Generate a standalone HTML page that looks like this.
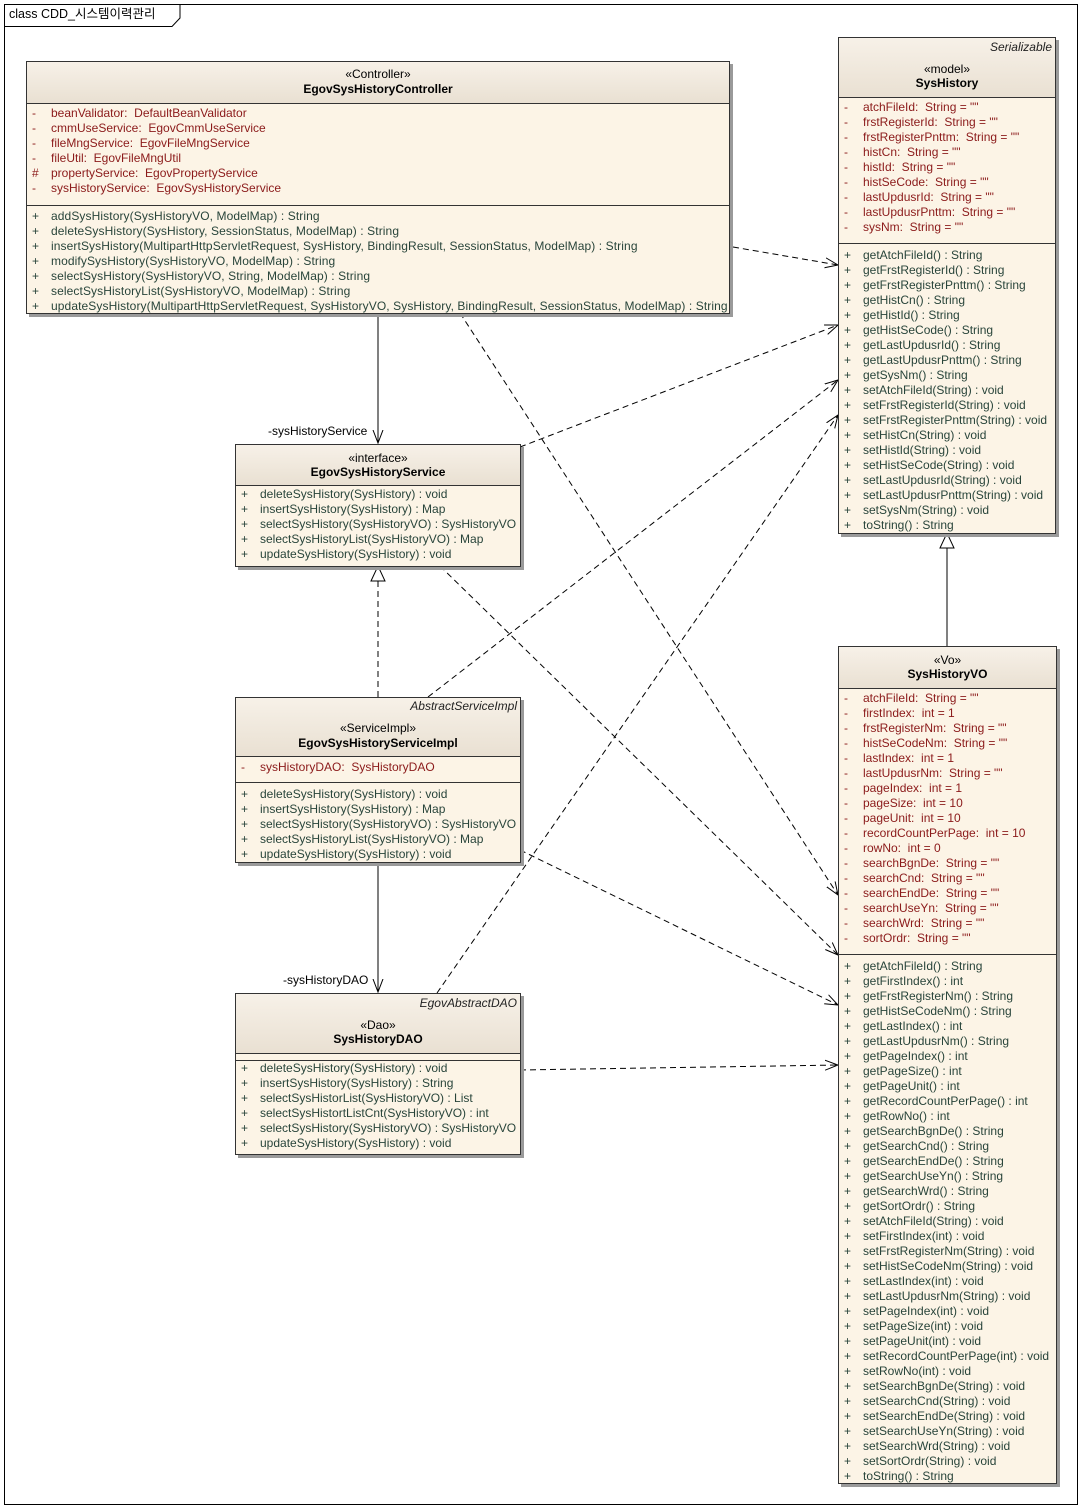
<!DOCTYPE html>
<html><head><meta charset="utf-8">
<style>
body{margin:0;width:1084px;height:1510px;background:#fff;position:relative;overflow:hidden;font-family:"Liberation Sans","Noto Sans CJK KR",sans-serif;font-size:12px;}
.box{position:absolute;background:#fcf4e6;border:1px solid #333;box-shadow:3px 3px 0 #9a9a9a;box-sizing:border-box;}
.hd{position:absolute;left:0;right:0;top:0;background:linear-gradient(#f7f1e8,#e9e0d2);border-bottom:1px solid #333;text-align:center;color:#000;}
.cmp{position:absolute;left:0;right:0;}
.sep{position:absolute;left:0;right:0;border-top:1px solid #333;}
.l{height:15px;line-height:15px;white-space:pre;position:relative;}
.l b{font-weight:normal;position:absolute;left:5px;}
.l span{position:absolute;left:24px;white-space:pre;}
.a{color:#8b1a1a;}
.o{color:#28443a;}
.st{position:absolute;left:0;right:0;text-align:center;line-height:15px;}
.nm{font-weight:bold;}
.ab{position:absolute;right:3px;font-style:italic;line-height:15px;color:#222;}
.lbl{position:absolute;line-height:15px;color:#000;}
</style></head><body>
<svg width="1084" height="1510" style="position:absolute;left:0;top:0">
<defs>
<marker id="ar" markerWidth="14" markerHeight="12" refX="13" refY="6" orient="auto" markerUnits="userSpaceOnUse"><path d="M0,1 L13,6 L0,11" fill="none" stroke="#000" stroke-width="1"/></marker>
</defs>
<rect x="4.5" y="4.5" width="1073" height="1500" fill="none" stroke="#000"/>
<path d="M4.5,26.5 H172 L180,18 V4.5" fill="none" stroke="#000"/>
<g stroke="#000" fill="none">
<line x1="378" y1="313" x2="378" y2="443" marker-end="url(#ar)"/>
<line x1="378" y1="862" x2="378" y2="992" marker-end="url(#ar)"/>
<line x1="947" y1="646" x2="947" y2="548"/>
<path d="M940,548 L947,533 L954,548 Z" fill="#fff"/>
<line x1="378" y1="697" x2="378" y2="581" stroke-dasharray="6,4"/>
<path d="M371,581 L378,566 L385,581 Z" fill="#fff"/>
<g stroke-dasharray="6,4">
<line x1="733" y1="247" x2="838" y2="265" marker-end="url(#ar)"/>
<line x1="460" y1="313" x2="838" y2="895" marker-end="url(#ar)"/>
<line x1="520" y1="447" x2="838" y2="325" marker-end="url(#ar)"/>
<line x1="440" y1="566" x2="838" y2="955" marker-end="url(#ar)"/>
<line x1="428" y1="697" x2="838" y2="380" marker-end="url(#ar)"/>
<line x1="520" y1="850" x2="838" y2="1005" marker-end="url(#ar)"/>
<line x1="437" y1="993" x2="838" y2="415" marker-end="url(#ar)"/>
<line x1="520" y1="1070" x2="838" y2="1065" marker-end="url(#ar)"/>
</g></g>
</svg>
<div class="lbl" style="left:9px;top:7px;font-size:12.5px">class CDD_시스템이력관리</div>
<div class="lbl" style="left:268px;top:424px">-sysHistoryService</div>
<div class="lbl" style="left:283px;top:973px">-sysHistoryDAO</div>

<!-- Controller -->
<div class="box" style="left:26px;top:61px;width:704px;height:253px">
<div class="hd" style="height:41px"><div class="st" style="top:5px">«Controller»</div><div class="st nm" style="top:20px">EgovSysHistoryController</div></div>
<div class="cmp a" style="top:44px">
<div class="l"><b>-</b><span>beanValidator:  DefaultBeanValidator</span></div>
<div class="l"><b>-</b><span>cmmUseService:  EgovCmmUseService</span></div>
<div class="l"><b>-</b><span>fileMngService:  EgovFileMngService</span></div>
<div class="l"><b>-</b><span>fileUtil:  EgovFileMngUtil</span></div>
<div class="l"><b>#</b><span>propertyService:  EgovPropertyService</span></div>
<div class="l"><b>-</b><span>sysHistoryService:  EgovSysHistoryService</span></div>
</div>
<div class="sep" style="top:143px"></div>
<div class="cmp o" style="top:147px;letter-spacing:0.1px">
<div class="l"><b>+</b><span>addSysHistory(SysHistoryVO, ModelMap) : String</span></div>
<div class="l"><b>+</b><span>deleteSysHistory(SysHistory, SessionStatus, ModelMap) : String</span></div>
<div class="l"><b>+</b><span>insertSysHistory(MultipartHttpServletRequest, SysHistory, BindingResult, SessionStatus, ModelMap) : String</span></div>
<div class="l"><b>+</b><span>modifySysHistory(SysHistoryVO, ModelMap) : String</span></div>
<div class="l"><b>+</b><span>selectSysHistory(SysHistoryVO, String, ModelMap) : String</span></div>
<div class="l"><b>+</b><span>selectSysHistoryList(SysHistoryVO, ModelMap) : String</span></div>
<div class="l"><b>+</b><span>updateSysHistory(MultipartHttpServletRequest, SysHistoryVO, SysHistory, BindingResult, SessionStatus, ModelMap) : String</span></div>
</div></div>

<!-- SysHistory -->
<div class="box" style="left:838px;top:37px;width:218px;height:497px">
<div class="hd" style="height:59px"><div class="ab" style="top:2px">Serializable</div><div class="st" style="top:24px">«model»</div><div class="st nm" style="top:38px">SysHistory</div></div>
<div class="cmp a" style="top:62px">
<div class="l"><b>-</b><span>atchFileId:  String = ""</span></div>
<div class="l"><b>-</b><span>frstRegisterId:  String = ""</span></div>
<div class="l"><b>-</b><span>frstRegisterPnttm:  String = ""</span></div>
<div class="l"><b>-</b><span>histCn:  String = ""</span></div>
<div class="l"><b>-</b><span>histId:  String = ""</span></div>
<div class="l"><b>-</b><span>histSeCode:  String = ""</span></div>
<div class="l"><b>-</b><span>lastUpdusrId:  String = ""</span></div>
<div class="l"><b>-</b><span>lastUpdusrPnttm:  String = ""</span></div>
<div class="l"><b>-</b><span>sysNm:  String = ""</span></div>
</div>
<div class="sep" style="top:205px"></div>
<div class="cmp o" style="top:210px">
<div class="l"><b>+</b><span>getAtchFileId() : String</span></div>
<div class="l"><b>+</b><span>getFrstRegisterId() : String</span></div>
<div class="l"><b>+</b><span>getFrstRegisterPnttm() : String</span></div>
<div class="l"><b>+</b><span>getHistCn() : String</span></div>
<div class="l"><b>+</b><span>getHistId() : String</span></div>
<div class="l"><b>+</b><span>getHistSeCode() : String</span></div>
<div class="l"><b>+</b><span>getLastUpdusrId() : String</span></div>
<div class="l"><b>+</b><span>getLastUpdusrPnttm() : String</span></div>
<div class="l"><b>+</b><span>getSysNm() : String</span></div>
<div class="l"><b>+</b><span>setAtchFileId(String) : void</span></div>
<div class="l"><b>+</b><span>setFrstRegisterId(String) : void</span></div>
<div class="l"><b>+</b><span>setFrstRegisterPnttm(String) : void</span></div>
<div class="l"><b>+</b><span>setHistCn(String) : void</span></div>
<div class="l"><b>+</b><span>setHistId(String) : void</span></div>
<div class="l"><b>+</b><span>setHistSeCode(String) : void</span></div>
<div class="l"><b>+</b><span>setLastUpdusrId(String) : void</span></div>
<div class="l"><b>+</b><span>setLastUpdusrPnttm(String) : void</span></div>
<div class="l"><b>+</b><span>setSysNm(String) : void</span></div>
<div class="l"><b>+</b><span>toString() : String</span></div>
</div></div>

<!-- Service -->
<div class="box" style="left:235px;top:444px;width:286px;height:123px">
<div class="hd" style="height:40px"><div class="st" style="top:6px">«interface»</div><div class="st nm" style="top:20px">EgovSysHistoryService</div></div>
<div class="cmp o" style="top:42px">
<div class="l"><b>+</b><span>deleteSysHistory(SysHistory) : void</span></div>
<div class="l"><b>+</b><span>insertSysHistory(SysHistory) : Map</span></div>
<div class="l"><b>+</b><span>selectSysHistory(SysHistoryVO) : SysHistoryVO</span></div>
<div class="l"><b>+</b><span>selectSysHistoryList(SysHistoryVO) : Map</span></div>
<div class="l"><b>+</b><span>updateSysHistory(SysHistory) : void</span></div>
</div></div>

<!-- ServiceImpl -->
<div class="box" style="left:235px;top:697px;width:286px;height:166px">
<div class="hd" style="height:58px"><div class="ab" style="top:1px">AbstractServiceImpl</div><div class="st" style="top:23px">«ServiceImpl»</div><div class="st nm" style="top:38px">EgovSysHistoryServiceImpl</div></div>
<div class="cmp a" style="top:62px">
<div class="l"><b>-</b><span>sysHistoryDAO:  SysHistoryDAO</span></div>
</div>
<div class="sep" style="top:84px"></div>
<div class="cmp o" style="top:89px">
<div class="l"><b>+</b><span>deleteSysHistory(SysHistory) : void</span></div>
<div class="l"><b>+</b><span>insertSysHistory(SysHistory) : Map</span></div>
<div class="l"><b>+</b><span>selectSysHistory(SysHistoryVO) : SysHistoryVO</span></div>
<div class="l"><b>+</b><span>selectSysHistoryList(SysHistoryVO) : Map</span></div>
<div class="l"><b>+</b><span>updateSysHistory(SysHistory) : void</span></div>
</div></div>

<!-- DAO -->
<div class="box" style="left:235px;top:993px;width:286px;height:162px">
<div class="hd" style="height:59px"><div class="ab" style="top:2px">EgovAbstractDAO</div><div class="st" style="top:24px">«Dao»</div><div class="st nm" style="top:38px">SysHistoryDAO</div></div>
<div class="sep" style="top:66px"></div>
<div class="cmp o" style="top:67px">
<div class="l"><b>+</b><span>deleteSysHistory(SysHistory) : void</span></div>
<div class="l"><b>+</b><span>insertSysHistory(SysHistory) : String</span></div>
<div class="l"><b>+</b><span>selectSysHistorList(SysHistoryVO) : List</span></div>
<div class="l"><b>+</b><span>selectSysHistortListCnt(SysHistoryVO) : int</span></div>
<div class="l"><b>+</b><span>selectSysHistory(SysHistoryVO) : SysHistoryVO</span></div>
<div class="l"><b>+</b><span>updateSysHistory(SysHistory) : void</span></div>
</div></div>

<!-- SysHistoryVO -->
<div class="box" style="left:838px;top:646px;width:219px;height:838px">
<div class="hd" style="height:41px"><div class="st" style="top:6px">«Vo»</div><div class="st nm" style="top:20px">SysHistoryVO</div></div>
<div class="cmp a" style="top:44px">
<div class="l"><b>-</b><span>atchFileId:  String = ""</span></div>
<div class="l"><b>-</b><span>firstIndex:  int = 1</span></div>
<div class="l"><b>-</b><span>frstRegisterNm:  String = ""</span></div>
<div class="l"><b>-</b><span>histSeCodeNm:  String = ""</span></div>
<div class="l"><b>-</b><span>lastIndex:  int = 1</span></div>
<div class="l"><b>-</b><span>lastUpdusrNm:  String = ""</span></div>
<div class="l"><b>-</b><span>pageIndex:  int = 1</span></div>
<div class="l"><b>-</b><span>pageSize:  int = 10</span></div>
<div class="l"><b>-</b><span>pageUnit:  int = 10</span></div>
<div class="l"><b>-</b><span>recordCountPerPage:  int = 10</span></div>
<div class="l"><b>-</b><span>rowNo:  int = 0</span></div>
<div class="l"><b>-</b><span>searchBgnDe:  String = ""</span></div>
<div class="l"><b>-</b><span>searchCnd:  String = ""</span></div>
<div class="l"><b>-</b><span>searchEndDe:  String = ""</span></div>
<div class="l"><b>-</b><span>searchUseYn:  String = ""</span></div>
<div class="l"><b>-</b><span>searchWrd:  String = ""</span></div>
<div class="l"><b>-</b><span>sortOrdr:  String = ""</span></div>
</div>
<div class="sep" style="top:307px"></div>
<div class="cmp o" style="top:312px">
<div class="l"><b>+</b><span>getAtchFileId() : String</span></div>
<div class="l"><b>+</b><span>getFirstIndex() : int</span></div>
<div class="l"><b>+</b><span>getFrstRegisterNm() : String</span></div>
<div class="l"><b>+</b><span>getHistSeCodeNm() : String</span></div>
<div class="l"><b>+</b><span>getLastIndex() : int</span></div>
<div class="l"><b>+</b><span>getLastUpdusrNm() : String</span></div>
<div class="l"><b>+</b><span>getPageIndex() : int</span></div>
<div class="l"><b>+</b><span>getPageSize() : int</span></div>
<div class="l"><b>+</b><span>getPageUnit() : int</span></div>
<div class="l"><b>+</b><span>getRecordCountPerPage() : int</span></div>
<div class="l"><b>+</b><span>getRowNo() : int</span></div>
<div class="l"><b>+</b><span>getSearchBgnDe() : String</span></div>
<div class="l"><b>+</b><span>getSearchCnd() : String</span></div>
<div class="l"><b>+</b><span>getSearchEndDe() : String</span></div>
<div class="l"><b>+</b><span>getSearchUseYn() : String</span></div>
<div class="l"><b>+</b><span>getSearchWrd() : String</span></div>
<div class="l"><b>+</b><span>getSortOrdr() : String</span></div>
<div class="l"><b>+</b><span>setAtchFileId(String) : void</span></div>
<div class="l"><b>+</b><span>setFirstIndex(int) : void</span></div>
<div class="l"><b>+</b><span>setFrstRegisterNm(String) : void</span></div>
<div class="l"><b>+</b><span>setHistSeCodeNm(String) : void</span></div>
<div class="l"><b>+</b><span>setLastIndex(int) : void</span></div>
<div class="l"><b>+</b><span>setLastUpdusrNm(String) : void</span></div>
<div class="l"><b>+</b><span>setPageIndex(int) : void</span></div>
<div class="l"><b>+</b><span>setPageSize(int) : void</span></div>
<div class="l"><b>+</b><span>setPageUnit(int) : void</span></div>
<div class="l"><b>+</b><span>setRecordCountPerPage(int) : void</span></div>
<div class="l"><b>+</b><span>setRowNo(int) : void</span></div>
<div class="l"><b>+</b><span>setSearchBgnDe(String) : void</span></div>
<div class="l"><b>+</b><span>setSearchCnd(String) : void</span></div>
<div class="l"><b>+</b><span>setSearchEndDe(String) : void</span></div>
<div class="l"><b>+</b><span>setSearchUseYn(String) : void</span></div>
<div class="l"><b>+</b><span>setSearchWrd(String) : void</span></div>
<div class="l"><b>+</b><span>setSortOrdr(String) : void</span></div>
<div class="l"><b>+</b><span>toString() : String</span></div>
</div></div>
</body></html>
